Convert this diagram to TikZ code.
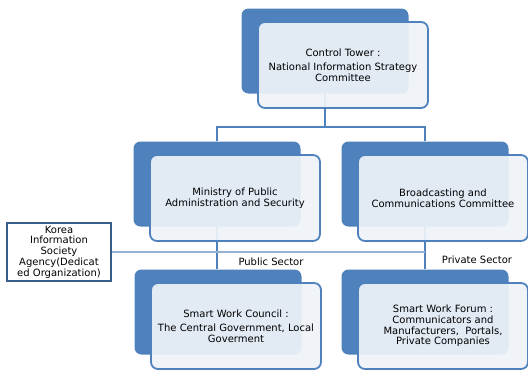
\documentclass[tikz,border=0pt]{standalone}
\usepackage{fontspec}
\setmainfont{DejaVu Sans}
\usepackage{tikz}
\usetikzlibrary{calc}

\definecolor{unitBlue}{HTML}{4F81BD}
\definecolor{unitFill}{HTML}{EFF3F9}
\definecolor{agencyLine}{HTML}{385D8A}
\definecolor{linkBlue}{HTML}{95B3D7}

\pgfdeclarelayer{lines}
\pgfdeclarelayer{bg}
\pgfsetlayers{lines,bg,main}

\tikzset{
  backbox/.style={fill=unitBlue, rounded corners=7pt, minimum width=167pt, minimum height=85pt, inner sep=0pt},
  frontbox/.style={draw=unitBlue, line width=1.8pt, fill=unitFill, fill opacity=0.92, text opacity=1,
    rounded corners=7pt, minimum width=170pt, minimum height=86pt, align=center, inner sep=1pt},
  agencybox/.style={draw=agencyLine, line width=2.2pt, fill=white, minimum width=104pt, minimum height=58pt,
    align=center, inner sep=1pt},
  conn/.style={draw=unitBlue, line width=2pt},
  kline/.style={draw=linkBlue, line width=1.4pt}
}

\begin{document}
\begin{tikzpicture}[x=1pt, y=-1pt, font={\fontsize{10}{10.8}\selectfont}]
  \useasboundingbox (0,0) rectangle (528,372);

  \def\drawUnit#1#2#3#4{
    \begin{pgfonlayer}{bg}
      \node[backbox] (#1b) at (#2-18,#3-14) {};
    \end{pgfonlayer}
    \node[frontbox] (#1) at (#2,#3) {#4};
  }

  \drawUnit{ct}{343}{65}{Control Tower :\\[3pt]National Information Strategy\\Committee}
  \drawUnit{mp}{235}{198}{Ministry of Public\\Administration and Security}
  \drawUnit{bc}{443}{198}{Broadcasting and\\Communications Committee}
  \drawUnit{sc}{236}{326}{Smart Work Council :\\[3pt]The Central Government, Local\\Goverment}
  \drawUnit{sf}{443}{326}{Smart Work Forum :\\Communicators and\\Manufacturers,~~Portals,\\Private Companies}

  \node[agencybox] (kisa) at (59,252) {Korea\\Information\\Society\\Agency(Dedicat\\ed Organization)};

  \node (pub) at (271,262) {Public Sector};
  \node (priv) at (477,260) {Private Sector};

  \coordinate (bar) at (324,127);
  \begin{pgfonlayer}{lines}
    \draw[conn] (ctb.center) -- (ctb.center |- bar);
    \draw[conn] (mpb.north) |- (bar) -| (bcb.north);
    \draw[conn] (mpb.center) -- (mpb.center |- scb.north);
    \draw[conn] (bcb.center) -- (bcb.center |- sfb.north);
    \draw[kline] (kisa.east) -- (kisa.east -| bcb.center);
  \end{pgfonlayer}
\end{tikzpicture}
\end{document}
